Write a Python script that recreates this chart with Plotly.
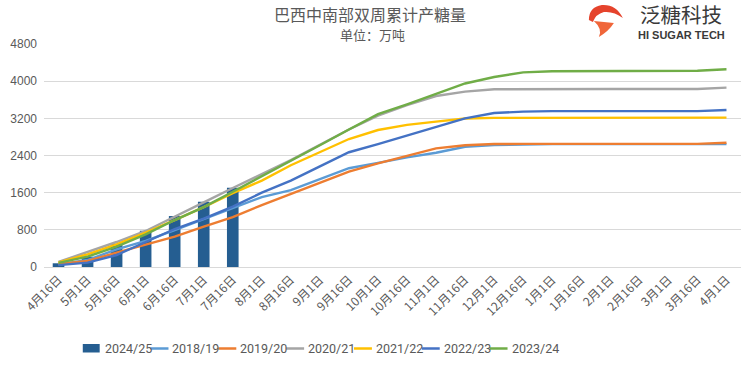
import plotly.graph_objects as go

# ---------------- data ----------------
categories = ["4月16日", "5月1日", "5月16日", "6月1日", "6月16日", "7月1日", "7月16日",
              "8月1日", "8月16日", "9月1日", "9月16日", "10月1日", "10月16日", "11月1日",
              "11月16日", "12月1日", "12月16日", "1月1日", "1月16日", "2月1日", "2月16日",
              "3月1日", "3月16日", "4月1日"]

s2024_25 = [80, 222, 495, 780, 1097, 1405, 1707]

s2018_19 = [55, 150, 380, 560, 796, 1030, 1280, 1505, 1655, 1887, 2126, 2242,
            2360, 2460, 2589, 2625, 2640, 2645, 2645, 2645, 2645, 2645, 2645, 2645]
s2019_20 = [65, 130, 308, 473, 652, 870, 1075, 1334, 1575, 1817, 2053, 2230,
            2400, 2554, 2620, 2647, 2650, 2650, 2650, 2650, 2650, 2650, 2650, 2675]
s2020_21 = [110, 316, 538, 775, 1090, 1390, 1700, 2000, 2300, 2630, 2960, 3260,
            3485, 3680, 3775, 3825, 3830, 3830, 3830, 3830, 3830, 3830, 3830, 3860]
s2021_22 = [100, 273, 488, 738, 1010, 1290, 1590, 1860, 2190, 2480, 2755, 2948,
            3060, 3130, 3195, 3210, 3210, 3210, 3210, 3210, 3210, 3210, 3210, 3215]
s2022_23 = [40, 93, 258, 540, 818, 1040, 1300, 1600, 1860, 2165, 2470, 2645,
            2830, 3015, 3200, 3314, 3344, 3355, 3355, 3355, 3355, 3355, 3355, 3380]
s2023_24 = [90, 222, 437, 703, 1011, 1290, 1620, 1950, 2280, 2620, 2960, 3290,
            3500, 3730, 3950, 4090, 4190, 4215, 4218, 4220, 4222, 4225, 4225, 4255]

line_names = ["2018/19", "2019/20", "2020/21", "2021/22", "2022/23", "2023/24"]
line_values = [s2018_19, s2019_20, s2020_21, s2021_22, s2022_23, s2023_24]
bar_name = "2024/25"

y_ticks = [0, 800, 1600, 2400, 3200, 4000, 4800]

title_text = "巴西中南部双周累计产糖量"
subtitle_text = "单位：万吨"
brand_cn = "泛糖科技"
brand_en = "HI SUGAR TECH"

# ---------------- styles / layout ----------------
bar_color = "#255E91"
line_colors = ["#5B9BD5", "#ED7D31", "#A5A5A5", "#FFC000", "#4472C4", "#70AD47"]
text_gray = "#595959"
grid_gray = "#D9D9D9"

W, H = 751, 370
# plot area in window pixels: x 40..741, y 44..267
PL, PR, PT, PB = 40, 741, 44, 267
ML, MT, MR, MB = PL, PT, W - PR, H - PB
PW = PR - PL
PH = PB - PT


def px(x):
    return (x - PL) / PW


def py(y):
    return (PB - y) / PH


fig = go.Figure()

fig.add_trace(go.Bar(x=categories[:len(s2024_25)], y=s2024_25, name=bar_name,
                     marker=dict(color=bar_color, line=dict(width=0))))

for name, vals, col in zip(line_names, line_values, line_colors):
    fig.add_trace(go.Scatter(x=categories, y=vals, name=name, mode="lines",
                             line=dict(color=col, width=2.4)))

shapes = []
annotations = []

# title
annotations.append(dict(text=title_text, x=px(368), y=py(14), xref="paper", yref="paper",
                        showarrow=False, xanchor="center", yanchor="middle",
                        font=dict(family="Noto Sans CJK SC", size=16, color=text_gray)))
annotations.append(dict(text=subtitle_text, x=px(370), y=py(34), xref="paper", yref="paper",
                        showarrow=False, xanchor="center", yanchor="middle",
                        font=dict(family="Noto Sans CJK SC", size=13, color=text_gray)))

# brand logo
annotations.append(dict(text=brand_cn, x=px(681), y=py(14.5), xref="paper", yref="paper",
                        showarrow=False, xanchor="center", yanchor="middle", borderpad=0,
                        font=dict(family="Noto Sans CJK SC", size=20.5, color="#3A3A3A")))
annotations.append(dict(text="<b>" + brand_en + "</b>", x=px(681), y=py(35), xref="paper",
                        yref="paper", showarrow=False, xanchor="center", yanchor="middle",
                        borderpad=0,
                        font=dict(family="Liberation Sans", size=11, color="#3A3A3A")))


def pix_path(points_cmds):
    out = []
    for cmd, pts in points_cmds:
        out.append(cmd + " ".join(f"{x},{-y}" for x, y in pts))
    return " ".join(out) + " Z"


top_path = pix_path([("M", [(1, 17)]), ("Q", [(1, 4), (14, 2)]), ("Q", [(28, 1), (35, 15)]),
                     ("Q", [(26, 8), (16, 9)]), ("Q", [(8, 11), (5, 19)])])
bot_path = pix_path([("M", [(6, 18)]), ("L", [(26, 20)]), ("Q", [(21, 28), (11, 34)]),
                     ("Q", [(15, 26), (6, 18)])])
for pth, col in [(top_path, "#E5432C"), (bot_path, "#F0663A")]:
    shapes.append(dict(type="path", path=pth, xref="paper", yref="paper",
                       xsizemode="pixel", ysizemode="pixel",
                       xanchor=px(587), yanchor=py(3),
                       fillcolor=col, line=dict(width=0)))

# legend (manual, compact like the original)
leg_names = [bar_name] + line_names
leg_colors = [bar_color] + line_colors
for k, (nm, col) in enumerate(zip(leg_names, leg_colors)):
    x0 = 79 + 68.2 * k
    if k == 0:
        shapes.append(dict(type="rect", xref="paper", yref="paper",
                           x0=px(x0), x1=px(x0 + 17), y0=py(352.5), y1=py(344),
                           fillcolor=col, line=dict(width=0)))
    else:
        shapes.append(dict(type="line", xref="paper", yref="paper",
                           x0=px(x0), x1=px(x0 + 18), y0=py(348.5), y1=py(348.5),
                           line=dict(color=col, width=2.5)))
    annotations.append(dict(text=nm, x=px(x0 + 20), y=py(348.5), xref="paper", yref="paper",
                            showarrow=False, xanchor="left", yanchor="middle",
                            font=dict(family="Liberation Sans Narrow, Roboto", size=12.5,
                                      color=text_gray)))

fig.update_layout(
    width=W, height=H,
    margin=dict(l=ML, r=MR, t=MT, b=MB, pad=0),
    paper_bgcolor="white", plot_bgcolor="white",
    showlegend=False,
    bargap=0.6,
    hovermode=False,
    shapes=shapes,
    annotations=annotations,
    xaxis=dict(type="category", categoryorder="array", categoryarray=categories,
               tickangle=-45, tickfont=dict(family="Noto Sans CJK SC", size=12, color=text_gray),
               showgrid=False, showline=True, linecolor=grid_gray, linewidth=1,
               ticks="", range=[-0.5, len(categories) - 0.5], fixedrange=True),
    yaxis=dict(range=[0, 4800], tickvals=y_ticks, ticktext=[str(v) for v in y_ticks],
               tickfont=dict(family="Liberation Sans", size=12, color=text_gray),
               showgrid=True, gridcolor=grid_gray, gridwidth=1, zeroline=True,
               zerolinecolor=grid_gray, zerolinewidth=1, showline=False, ticks="",
               ticklabelstandoff=6, fixedrange=True),
)

fig.write_html("out.html",
               config={"displayModeBar": False, "staticPlot": True},
               post_script="document.body.style.margin='0';document.body.style.overflow='hidden';")
